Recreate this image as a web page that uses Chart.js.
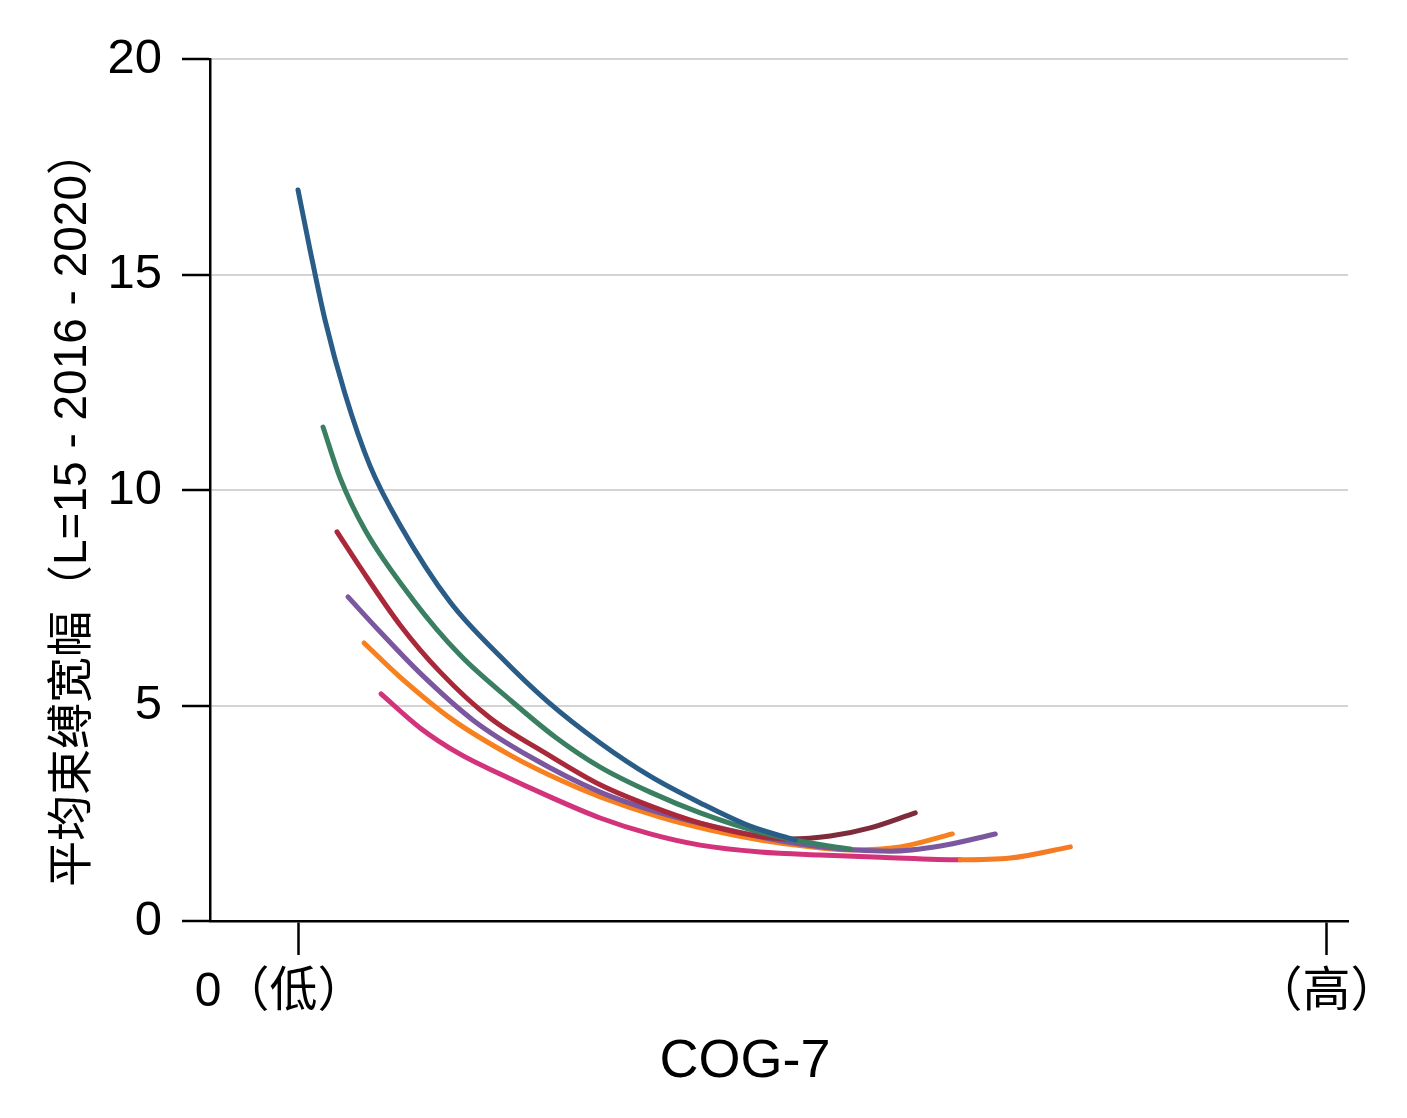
<!DOCTYPE html>
<html>
<head>
<meta charset="utf-8">
<script src="https://cdn.jsdelivr.net/npm/chart.js@4.4.1/dist/chart.umd.min.js"></script>
<style>
  html, body { margin: 0; padding: 0; background: #fff; }
  #wrap { width: 1407px; height: 1118px; }
</style>
</head>
<body>
<div id="wrap"><canvas id="cogChart" width="1407" height="1118"></canvas></div>
<script>
// x: position on COG-7 scale (0 = low, 100 = high), y: mean bound width
const blueX   = [0, 1.17, 2.63, 4.57, 7.00, 9.92, 14.79, 19.65, 24.22, 29.38, 34.24, 39.11, 43.97, 48.35];
const blueY   = [16.96, 15.57, 13.94, 12.23, 10.56, 9.19, 7.40, 6.14, 5.10, 4.13, 3.36, 2.74, 2.20, 1.88];
const greenX  = [2.43, 4.09, 6.52, 11.19, 15.76, 20.62, 25.00, 29.38, 34.24, 39.11, 44.94, 49.81, 53.70];
const greenY  = [11.46, 10.28, 9.07, 7.45, 6.17, 5.13, 4.27, 3.57, 2.99, 2.51, 2.06, 1.81, 1.67];
const redX    = [3.79, 6.03, 9.92, 13.81, 18.68, 24.03, 29.38, 34.24, 39.11, 43.97, 47.86, 51.75, 55.64, 60.02];
const redY    = [9.03, 8.21, 6.87, 5.78, 4.71, 3.90, 3.16, 2.67, 2.27, 2.00, 1.90, 1.97, 2.16, 2.51];
const purpleX = [4.86, 7.98, 11.87, 17.02, 22.57, 29.38, 35.21, 41.05, 46.89, 52.72, 57.59, 62.45, 67.80];
const purpleY = [7.52, 6.71, 5.75, 4.66, 3.81, 2.99, 2.51, 2.16, 1.86, 1.67, 1.62, 1.74, 2.02];
const orangeX = [6.42, 9.92, 15.08, 20.62, 25.49, 29.38, 35.21, 40.08, 44.94, 49.81, 53.70, 58.56, 63.62];
const orangeY = [6.45, 5.66, 4.66, 3.85, 3.27, 2.88, 2.41, 2.11, 1.88, 1.72, 1.65, 1.72, 2.02];
const pinkX   = [8.07, 11.87, 15.76, 19.65, 24.51, 29.38, 34.24, 39.11, 44.94, 50.78, 56.61, 64.40, 69.26, 75.10];
const pinkY   = [5.27, 4.48, 3.87, 3.41, 2.88, 2.39, 2.02, 1.76, 1.60, 1.53, 1.48, 1.42, 1.46, 1.72];

const yTicks = [0, 5, 10, 15, 20];
const xTicks = [0, 100];
const xTickLabels = ['0（低）', '（高）'];
const xTitle = 'COG-7';
const yTitle = '平均束缚宽幅（L=15 - 2016 - 2020）';

const FONT = '"Liberation Sans", Arial, "Noto Sans CJK SC", sans-serif';

function pts(xs, ys) {
    return xs.map((x, i) => ({ x: x, y: ys[i] }));
}

function line(label, xs, ys, color, segColor, splitAt) {
    const ds = {
        label: label,
        data: pts(xs, ys),
        showLine: true,
        borderColor: color,
        borderWidth: 5,
        borderCapStyle: 'round',
        borderJoinStyle: 'round',
        pointRadius: 0,
        cubicInterpolationMode: 'monotone',
        fill: false
    };
    if (segColor) {
        ds.segment = {
            borderColor: ctx => ctx.p0.parsed.x >= splitAt ? segColor : color
        };
    }
    return ds;
}

// draws x tick labels and the two axis titles
const labelPlugin = {
    id: 'labelPlugin',
    afterDraw(chart) {
        const c = chart.ctx;
        const xs = chart.scales.x;
        c.save();
        c.fillStyle = '#000';
        c.textBaseline = 'middle';
        c.textAlign = 'center';
        c.font = '48px ' + FONT;
        c.fillText(xTickLabels[0], xs.getPixelForValue(xTicks[0]) - 18, 993);
        c.fillText(xTickLabels[1], xs.getPixelForValue(xTicks[1]), 993);
        c.font = '54px ' + FONT;
        c.fillText(xTitle, 745, 1062);
        c.translate(73, 508);
        c.rotate(-Math.PI / 2);
        c.font = '46px ' + FONT;
        c.fillText(yTitle, 0, 0);
        c.restore();
    }
};

new Chart(document.getElementById('cogChart'), {
    type: 'scatter',
    data: {
        datasets: [
            line('A', blueX, blueY, '#2a5c88'),
            line('B', greenX, greenY, '#3a7f62'),
            line('C', redX, redY, '#a9283a', '#7e2b3b', 46),
            line('D', purpleX, purpleY, '#7a579e'),
            line('E', orangeX, orangeY, '#f7801f'),
            line('F', pinkX, pinkY, '#d3337b', '#f57a24', 64.4)
        ]
    },
    options: {
        responsive: false,
        animation: false,
        layout: { padding: { left: 0, right: 59, top: 59, bottom: 0 } },
        plugins: {
            legend: { display: false },
            tooltip: { enabled: false }
        },
        scales: {
            x: {
                type: 'linear',
                min: -8.56,
                max: 102.1,
                afterBuildTicks: s => { s.ticks = xTicks.map(v => ({ value: v })); },
                afterFit: s => { s.height = 1118 - 921; },
                ticks: { display: false },
                grid: {
                    drawOnChartArea: false,
                    drawTicks: true,
                    tickLength: 34,
                    tickColor: '#000',
                    tickWidth: 2.5
                },
                border: { color: '#000', width: 2.5 }
            },
            y: {
                min: 0,
                max: 20,
                afterBuildTicks: s => { s.ticks = yTicks.map(v => ({ value: v })); },
                afterFit: s => { s.width = 210; },
                ticks: {
                    color: '#000',
                    padding: 20,
                    font: { size: 49, family: FONT }
                },
                grid: {
                    color: '#d4d4d4',
                    lineWidth: 2,
                    tickLength: 28,
                    tickColor: '#000',
                    tickWidth: 2.5
                },
                border: { color: '#000', width: 2.5 }
            }
        }
    },
    plugins: [labelPlugin]
});
</script>
</body>
</html>
